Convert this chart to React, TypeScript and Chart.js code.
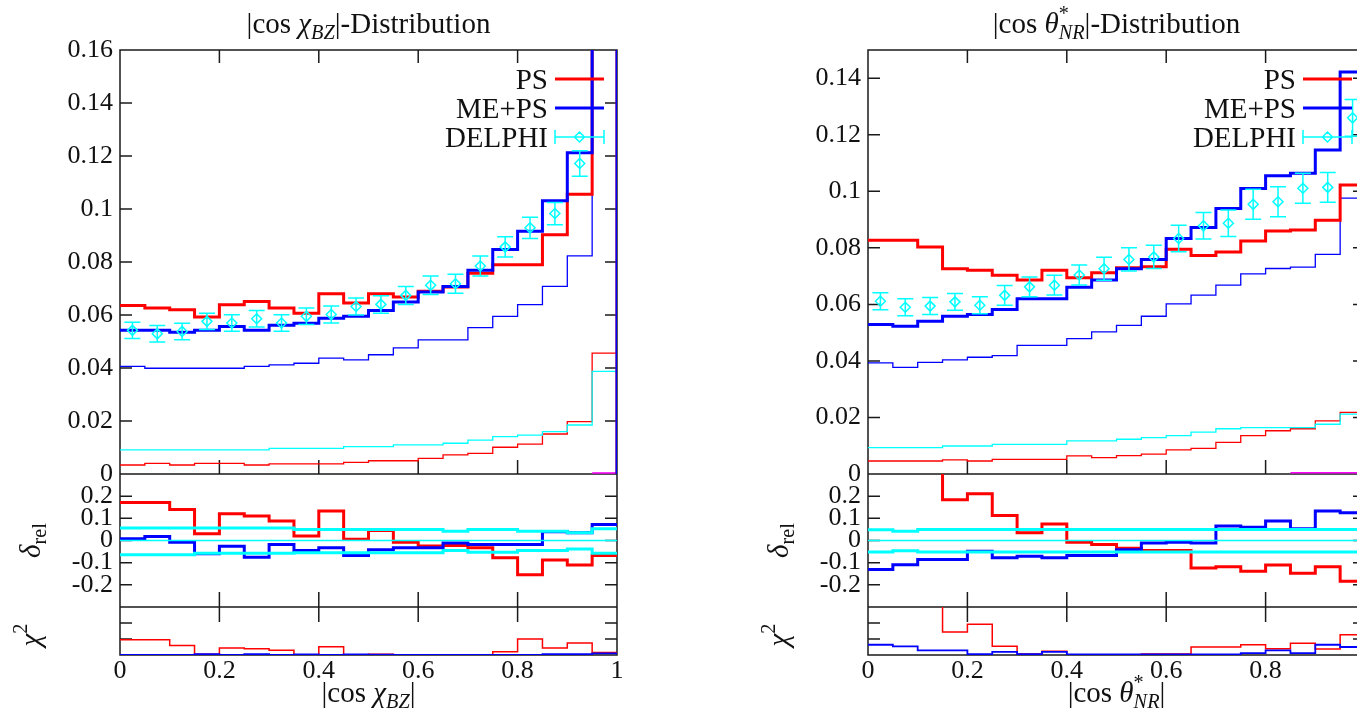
import React, { useEffect, useRef } from 'react';
import { Chart, registerables } from 'chart.js';

Chart.register(...registerables);

// ---------------- data ----------------
const BIN_EDGES = [0, 0.05, 0.1, 0.15, 0.2, 0.25, 0.3, 0.35, 0.4, 0.45, 0.5, 0.55, 0.6, 0.65, 0.7, 0.75, 0.8, 0.85, 0.9, 0.95, 1];
const BIN_CENTERS = [0.025, 0.075, 0.125, 0.175, 0.225, 0.275, 0.325, 0.375, 0.425, 0.475, 0.525, 0.575, 0.625, 0.675, 0.725, 0.775, 0.825, 0.875, 0.925, 0.975];
const ZERO_LINE = [0, 0, 0, 0, 0, 0, 0, 0, 0, 0, 0, 0, 0, 0, 0, 0, 0, 0, 0, 0];

// Left panel: |cos chi_BZ|
const L_PS = [0.0636, 0.0626, 0.0620, 0.0592, 0.0639, 0.0651, 0.0626, 0.0607, 0.0680, 0.0645, 0.0680, 0.0668, 0.0690, 0.0706, 0.0758, 0.0790, 0.0790, 0.0903, 0.1056, 0.2800];
const L_MEPS = [0.0542, 0.0542, 0.0535, 0.0542, 0.0557, 0.0542, 0.0561, 0.0569, 0.0588, 0.0595, 0.0617, 0.0649, 0.0687, 0.0708, 0.0769, 0.0847, 0.0916, 0.1031, 0.1212, 0.3200];
const L_DATA = [0.0542, 0.0529, 0.0538, 0.0576, 0.0570, 0.0586, 0.0570, 0.0595, 0.0602, 0.0632, 0.0640, 0.0674, 0.0712, 0.0718, 0.0785, 0.0857, 0.0929, 0.0983, 0.1172, 0.3000];
const L_ERR = [0.0031, 0.0031, 0.0031, 0.0031, 0.0031, 0.0031, 0.0031, 0.0031, 0.0032, 0.0032, 0.0033, 0.0034, 0.0035, 0.0036, 0.0038, 0.0038, 0.0040, 0.0042, 0.0048, 0.0150];
const L_THIN_BLUE = [0.0406, 0.0399, 0.0399, 0.0399, 0.0399, 0.0406, 0.0412, 0.0418, 0.0437, 0.0431, 0.0450, 0.0476, 0.0506, 0.0506, 0.0552, 0.0595, 0.0639, 0.0708, 0.0823, 0.2200];
const L_THIN_CYAN = [0.0091, 0.0091, 0.0091, 0.0091, 0.0091, 0.0091, 0.0097, 0.0097, 0.0097, 0.0103, 0.0103, 0.0110, 0.0110, 0.0116, 0.0128, 0.0141, 0.0147, 0.0160, 0.0185, 0.0387];
const L_THIN_RED = [0.0034, 0.0040, 0.0034, 0.0040, 0.0040, 0.0034, 0.0038, 0.0038, 0.0038, 0.0044, 0.0050, 0.0050, 0.0059, 0.0072, 0.0078, 0.0101, 0.0113, 0.0151, 0.0198, 0.0456];
const L_MAGENTA = [null, null, null, null, null, null, null, null, null, null, null, null, null, null, null, null, null, null, null, 0.0004];
const L_D_PS = [0.171, 0.171, 0.140, 0.030, 0.121, 0.110, 0.088, 0.020, 0.133, 0.006, 0.045, -0.008, -0.025, -0.023, -0.033, -0.078, -0.155, -0.088, -0.110, -0.068];
const L_D_MEPS = [0.008, 0.018, -0.008, -0.060, -0.026, -0.075, -0.018, -0.045, -0.033, -0.068, -0.042, -0.033, -0.033, -0.011, -0.018, -0.018, -0.018, 0.040, 0.035, 0.072];
const L_BAND_UP = [0.056, 0.056, 0.056, 0.056, 0.056, 0.056, 0.056, 0.050, 0.050, 0.050, 0.050, 0.050, 0.050, 0.042, 0.050, 0.050, 0.042, 0.042, 0.035, 0.053];
const L_BAND_LO = [-0.064, -0.064, -0.064, -0.058, -0.058, -0.058, -0.058, -0.055, -0.055, -0.055, -0.055, -0.055, -0.055, -0.045, -0.053, -0.053, -0.045, -0.045, -0.038, -0.057];
const L_C_PS = [0.95, 0.95, 0.60, 0.04, 0.43, 0.39, 0.29, 0.00, 0.52, 0.02, 0.05, 0.02, 0.00, 0.00, 0.00, 0.20, 1.00, 0.43, 0.75, 0.16];
const L_C_MEPS = [0.00, 0.01, 0.00, 0.05, 0.01, 0.05, 0.00, 0.03, 0.01, 0.04, 0.02, 0.01, 0.01, 0.00, 0.00, 0.00, 0.00, 0.06, 0.06, 0.10];

// Right panel: |cos theta*_NR|
const R_PS = [0.0827, 0.0827, 0.0803, 0.0726, 0.0721, 0.0703, 0.0686, 0.0721, 0.0694, 0.0712, 0.0730, 0.0733, 0.0795, 0.0773, 0.0785, 0.0824, 0.0860, 0.0863, 0.0898, 0.1022];
const R_MEPS = [0.0529, 0.0523, 0.0540, 0.0558, 0.0564, 0.0582, 0.0620, 0.0620, 0.0661, 0.0686, 0.0726, 0.0759, 0.0833, 0.0872, 0.0939, 0.1010, 0.1055, 0.1064, 0.1146, 0.1422];
const R_DATA = [0.0611, 0.0590, 0.0594, 0.0609, 0.0597, 0.0632, 0.0662, 0.0668, 0.0704, 0.0726, 0.0759, 0.0768, 0.0833, 0.0878, 0.0887, 0.0954, 0.0963, 0.1011, 0.1014, 0.1260];
const R_ERR = [0.0030, 0.0030, 0.0030, 0.0030, 0.0030, 0.0035, 0.0035, 0.0035, 0.0035, 0.0041, 0.0041, 0.0041, 0.0047, 0.0047, 0.0047, 0.0053, 0.0053, 0.0053, 0.0053, 0.0065];
const R_THIN_BLUE = [0.0393, 0.0377, 0.0395, 0.0404, 0.0413, 0.0419, 0.0455, 0.0455, 0.0479, 0.0503, 0.0526, 0.0558, 0.0602, 0.0633, 0.0668, 0.0708, 0.0727, 0.0732, 0.0777, 0.0976];
const R_THIN_CYAN = [0.0093, 0.0093, 0.0093, 0.0099, 0.0099, 0.0105, 0.0105, 0.0105, 0.0117, 0.0117, 0.0123, 0.0129, 0.0136, 0.0148, 0.0160, 0.0164, 0.0164, 0.0164, 0.0176, 0.0212];
const R_THIN_RED = [0.0046, 0.0046, 0.0046, 0.0050, 0.0046, 0.0052, 0.0052, 0.0052, 0.0064, 0.0058, 0.0065, 0.0070, 0.0085, 0.0091, 0.0112, 0.0136, 0.0153, 0.0160, 0.0188, 0.0218];
const R_MAGENTA = [null, null, null, null, null, null, null, null, null, null, null, null, null, null, null, null, null, 0.0004, 0.0004, 0.0004];
const R_D_PS = [0.35, 0.40, 0.35, 0.184, 0.211, 0.113, 0.035, 0.075, -0.008, -0.018, -0.035, -0.045, -0.045, -0.124, -0.118, -0.139, -0.110, -0.148, -0.118, -0.184];
const R_D_MEPS = [-0.131, -0.109, -0.086, -0.086, -0.048, -0.078, -0.071, -0.078, -0.068, -0.068, -0.042, -0.011, -0.008, -0.011, 0.065, 0.060, 0.088, 0.053, 0.133, 0.125];
const R_BAND_UP = [0.048, 0.042, 0.050, 0.050, 0.050, 0.050, 0.050, 0.050, 0.050, 0.050, 0.050, 0.050, 0.050, 0.050, 0.050, 0.050, 0.050, 0.050, 0.050, 0.050];
const R_BAND_LO = [-0.052, -0.046, -0.052, -0.052, -0.052, -0.052, -0.052, -0.052, -0.052, -0.052, -0.052, -0.052, -0.052, -0.052, -0.052, -0.052, -0.052, -0.052, -0.052, -0.052];
const R_C_PS = [5.2, 6.8, 5.2, 1.43, 1.92, 0.54, 0.06, 0.23, 0.00, 0.00, 0.00, 0.06, 0.06, 0.50, 0.50, 0.64, 0.39, 0.74, 0.37, 1.26];
const R_C_MEPS = [0.64, 0.54, 0.29, 0.29, 0.06, 0.19, 0.06, 0.19, 0.04, 0.04, 0.04, 0.04, 0.04, 0.04, 0.04, 0.12, 0.29, 0.12, 0.64, 0.50];

const LEGEND_LABELS = ['PS', 'ME+PS', 'DELPHI'];

// ---------------- styling / layout ----------------
const FONT_FAMILY = '"Liberation Serif", "Times New Roman", serif';
const TICK_FS = 26;
const TEXT_FS = 29;
const RED = '#ff0000';
const BLUE = '#0000ff';
const CYAN = '#00ffff';
const MAGENTA = '#ff00ff';
const INK = '#111111';

const TOP = 50;
const MAIN_H = 424;
const RATIO_H = 133;
const CHI_H = 48;
const XAX_H = 54;
const YAX_W = 120;
const CANVAS_W = 680;
const CANVAS_H = 709;
const RIGHT_PAD = 63;

type Run = { t: string; it?: boolean; sub?: string; subIt?: boolean; sup?: string };

const fnt = (size: number, it?: boolean) => `${it ? 'italic ' : ''}${size}px ${FONT_FAMILY}`;

function runsWidth(ctx: CanvasRenderingContext2D, runs: Run[], size: number) {
  let w = 0;
  for (const r of runs) {
    ctx.font = fnt(size, r.it);
    w += ctx.measureText(r.t).width;
    let sw = 0;
    if (r.sub) {
      ctx.font = fnt(size * 0.7, r.subIt !== false);
      sw = Math.max(sw, ctx.measureText(r.sub).width);
    }
    if (r.sup) {
      ctx.font = fnt(size * 0.7, false);
      sw = Math.max(sw, ctx.measureText(r.sup).width);
    }
    w += sw;
  }
  return w;
}

function drawRuns(ctx: CanvasRenderingContext2D, runs: Run[], cx: number, cy: number, size: number, rot = 0) {
  ctx.save();
  ctx.translate(cx, cy);
  if (rot) ctx.rotate(rot);
  ctx.fillStyle = INK;
  ctx.textAlign = 'left';
  ctx.textBaseline = 'alphabetic';
  const w = runsWidth(ctx, runs, size);
  let x = -w / 2;
  const base = size * 0.33;
  for (const r of runs) {
    ctx.font = fnt(size, r.it);
    ctx.fillText(r.t, x, base);
    x += ctx.measureText(r.t).width;
    let sw = 0;
    if (r.sub) {
      ctx.font = fnt(size * 0.7, r.subIt !== false);
      ctx.fillText(r.sub, x, base + size * 0.22);
      sw = Math.max(sw, ctx.measureText(r.sub).width);
    }
    if (r.sup) {
      ctx.font = fnt(size * 0.7, false);
      ctx.fillText(r.sup, x, base - size * 0.42);
      sw = Math.max(sw, ctx.measureText(r.sup).width);
    }
    x += sw;
  }
  ctx.restore();
}

type PanelCfg = {
  title: Run[];
  xlabel: Run[];
  yMax: number;
  ps: number[];
  meps: number[];
  data: number[];
  err: number[];
  thinBlue: number[];
  thinCyan: number[];
  thinRed: number[];
  magenta: (number | null)[];
  dPs: number[];
  dMeps: number[];
  bandUp: number[];
  bandLo: number[];
  cPs: number[];
  cMeps: number[];
};

const LEFT: PanelCfg = {
  title: [{ t: '|cos ' }, { t: 'χ', it: true, sub: 'BZ' }, { t: '|-Distribution' }],
  xlabel: [{ t: '|cos ' }, { t: 'χ', it: true, sub: 'BZ' }, { t: '|' }],
  yMax: 0.16,
  ps: L_PS, meps: L_MEPS, data: L_DATA, err: L_ERR,
  thinBlue: L_THIN_BLUE, thinCyan: L_THIN_CYAN, thinRed: L_THIN_RED, magenta: L_MAGENTA,
  dPs: L_D_PS, dMeps: L_D_MEPS, bandUp: L_BAND_UP, bandLo: L_BAND_LO,
  cPs: L_C_PS, cMeps: L_C_MEPS,
};

const RIGHT: PanelCfg = {
  title: [{ t: '|cos ' }, { t: 'θ', it: true, sup: '*', sub: 'NR' }, { t: '|-Distribution' }],
  xlabel: [{ t: '|cos ' }, { t: 'θ', it: true, sup: '*', sub: 'NR' }, { t: '|' }],
  yMax: 0.15,
  ps: R_PS, meps: R_MEPS, data: R_DATA, err: R_ERR,
  thinBlue: R_THIN_BLUE, thinCyan: R_THIN_CYAN, thinRed: R_THIN_RED, magenta: R_MAGENTA,
  dPs: R_D_PS, dMeps: R_D_MEPS, bandUp: R_BAND_UP, bandLo: R_BAND_LO,
  cPs: R_C_PS, cMeps: R_C_MEPS,
};

function hist(vals: (number | null)[], drop = false) {
  const pts: { x: number; y: number | null }[] = vals.map((v, i) => ({ x: BIN_EDGES[i], y: v }));
  pts.push({ x: BIN_EDGES[vals.length], y: vals[vals.length - 1] });
  if (drop) pts.push({ x: BIN_EDGES[vals.length], y: 0 });
  return pts;
}

function stepDs(label: string, vals: (number | null)[], color: string, width: number, axis: string, drop = false) {
  return {
    type: 'line' as const,
    label,
    data: hist(vals, drop),
    borderColor: color,
    backgroundColor: color,
    borderWidth: width,
    stepped: 'before' as const,
    pointRadius: 0,
    pointHoverRadius: 0,
    fill: false,
    spanGaps: false,
    yAxisID: axis,
    clip: 0,
    borderJoinStyle: 'miter' as const,
    borderCapStyle: 'butt' as const,
  };
}

const fmt = (v: any) => String(Number(Number(v).toFixed(3)));

const TICK = 12;

const framePlugin = {
  id: 'gnuFrame',
  beforeDatasetsDraw(chart: any) {
    const { ctx, chartArea: ca } = chart;
    const sx = chart.scales.x;
    const ym = chart.scales.y;
    const yr = chart.scales.yr;
    const yc = chart.scales.yc;
    ctx.save();
    ctx.strokeStyle = '#1a1a1a';
    ctx.lineWidth = 1.5;
    ctx.beginPath();
    ctx.rect(ca.left, ca.top, ca.right - ca.left, ca.bottom - ca.top);
    ctx.moveTo(ca.left, ym.bottom);
    ctx.lineTo(ca.right, ym.bottom);
    ctx.moveTo(ca.left, yr.bottom);
    ctx.lineTo(ca.right, yr.bottom);
    for (const s of [ym, yr, yc]) {
      for (const t of s.ticks) {
        const py = s.getPixelForValue(t.value);
        if (py <= s.top + 0.5 || py >= s.bottom - 0.5) continue;
        ctx.moveTo(ca.left, py);
        ctx.lineTo(ca.left + TICK, py);
        ctx.moveTo(ca.right, py);
        ctx.lineTo(ca.right - TICK, py);
      }
    }
    for (const t of sx.ticks) {
      const px = sx.getPixelForValue(t.value);
      if (px <= ca.left + 0.5 || px >= ca.right - 0.5) continue;
      ctx.moveTo(px, ym.top);
      ctx.lineTo(px, ym.top + 13);
      ctx.moveTo(px, ym.bottom);
      ctx.lineTo(px, ym.bottom - 14);
      ctx.moveTo(px, yr.bottom);
      ctx.lineTo(px, yr.bottom - 15);
      ctx.moveTo(px, yc.top);
      ctx.lineTo(px, yc.top + 15);
    }
    ctx.stroke();
    ctx.restore();
  },
};

function diamond(ctx: CanvasRenderingContext2D, x: number, y: number, r: number) {
  ctx.moveTo(x, y - r);
  ctx.lineTo(x + r, y);
  ctx.lineTo(x, y + r);
  ctx.lineTo(x - r, y);
  ctx.closePath();
}

function makeOverlay(p: PanelCfg) {
  return {
    id: 'overlay',
    afterDatasetsDraw(chart: any) {
      const { ctx, chartArea: ca } = chart;
      const sx = chart.scales.x;
      const ym = chart.scales.y;
      // error bars
      ctx.save();
      ctx.beginPath();
      ctx.rect(ca.left, ym.top, ca.right - ca.left, ym.bottom - ym.top);
      ctx.clip();
      ctx.strokeStyle = CYAN;
      ctx.lineWidth = 1.5;
      ctx.beginPath();
      p.data.forEach((v, i) => {
        const e = p.err[i];
        const px = sx.getPixelForValue(BIN_CENTERS[i]);
        const y1 = ym.getPixelForValue(v - e);
        const y2 = ym.getPixelForValue(v + e);
        ctx.moveTo(px, y1);
        ctx.lineTo(px, y2);
        ctx.moveTo(px - 8, y1);
        ctx.lineTo(px + 8, y1);
        ctx.moveTo(px - 8, y2);
        ctx.lineTo(px + 8, y2);
      });
      ctx.stroke();
      ctx.restore();

      // legend
      ctx.save();
      const colors = [RED, BLUE, CYAN];
      LEGEND_LABELS.forEach((lab, i) => {
        const y = ca.top + 29 + i * 29;
        ctx.font = fnt(TEXT_FS);
        ctx.fillStyle = INK;
        ctx.textAlign = 'right';
        ctx.textBaseline = 'alphabetic';
        ctx.fillText(lab, ca.right - 69, y + TEXT_FS * 0.33);
        const x1 = ca.right - 62;
        const x2 = ca.right - 13;
        ctx.strokeStyle = colors[i];
        ctx.beginPath();
        if (i < 2) {
          ctx.lineWidth = 3;
          ctx.moveTo(x1, y);
          ctx.lineTo(x2, y);
        } else {
          ctx.lineWidth = 1.5;
          ctx.moveTo(x1, y);
          ctx.lineTo(x2, y);
          ctx.moveTo(x1, y - 7);
          ctx.lineTo(x1, y + 7);
          ctx.moveTo(x2, y - 7);
          ctx.lineTo(x2, y + 7);
          diamond(ctx, (x1 + x2) / 2, y, 5);
        }
        ctx.stroke();
      });
      ctx.restore();
    },
    afterDraw(chart: any) {
      const { ctx, chartArea: ca } = chart;
      const yr = chart.scales.yr;
      const yc = chart.scales.yc;
      const cx = (ca.left + ca.right) / 2;
      drawRuns(ctx, p.title, cx, 23, TEXT_FS);
      drawRuns(ctx, p.xlabel, cx, 692, TEXT_FS);
      drawRuns(ctx, [{ t: 'δ', it: true, sub: 'rel', subIt: false }], ca.left - 90, (yr.top + yr.bottom) / 2, TEXT_FS, -Math.PI / 2);
      drawRuns(ctx, [{ t: 'χ', it: true, sup: '2' }], ca.left - 90, (yc.top + yc.bottom) / 2 + 4, TEXT_FS, -Math.PI / 2);
    },
  };
}

function buildConfig(p: PanelCfg): any {
  const tickFont = { family: FONT_FAMILY, size: TICK_FS };
  const yCommon = {
    type: 'linear',
    position: 'left',
    stack: 'panel',
    grid: { display: false, drawTicks: false },
    border: { display: false },
    afterFit: (s: any) => { s.width = YAX_W; },
  };
  const datasets: any[] = [
    {
      type: 'line',
      label: 'DELPHI',
      data: BIN_CENTERS.map((x, i) => ({ x, y: p.data[i] })),
      showLine: false,
      pointStyle: 'rectRot',
      pointRadius: 5,
      pointHoverRadius: 5,
      pointBorderColor: CYAN,
      pointBackgroundColor: 'rgba(0,0,0,0)',
      pointBorderWidth: 1.5,
      yAxisID: 'y',
      clip: 0,
    },
    stepDs('band up', p.bandUp, CYAN, 3, 'yr'),
    stepDs('band lo', p.bandLo, CYAN, 3, 'yr'),
    stepDs('band mid', ZERO_LINE, CYAN, 1.5, 'yr'),
    stepDs('ME+PS rel', p.dMeps, BLUE, 3, 'yr'),
    stepDs('PS rel', p.dPs, RED, 3, 'yr'),
    stepDs('ME+PS chi2', p.cMeps, BLUE, 1.8, 'yc'),
    stepDs('PS chi2', p.cPs, RED, 1.5, 'yc'),
    stepDs('ME+PS', p.meps, BLUE, 3, 'y', true),
    stepDs('PS', p.ps, RED, 3, 'y', true),
    stepDs('other', p.magenta, MAGENTA, 1.5, 'y'),
    stepDs('thin blue', p.thinBlue, BLUE, 1.3, 'y', true),
    stepDs('thin cyan', p.thinCyan, CYAN, 1.3, 'y', true),
    stepDs('thin red', p.thinRed, RED, 1.3, 'y', true),
  ];
  return {
    type: 'line',
    data: { datasets },
    options: {
      responsive: false,
      animation: false,
      events: [],
      layout: { padding: { top: TOP, right: RIGHT_PAD, bottom: 0, left: 0 } },
      plugins: {
        legend: { display: false },
        tooltip: { enabled: false },
        title: { display: false },
      },
      scales: {
        x: {
          type: 'linear',
          position: 'bottom',
          min: 0,
          max: 1,
          ticks: { stepSize: 0.2, font: tickFont, color: INK, maxRotation: 0, autoSkip: false, padding: 1, callback: fmt },
          grid: { display: false, drawTicks: false },
          border: { display: false },
          afterFit: (s: any) => { s.height = XAX_H; },
        },
        y: {
          ...yCommon,
          weight: 3,
          stackWeight: MAIN_H,
          min: 0,
          max: p.yMax,
          ticks: { stepSize: 0.02, includeBounds: false, font: tickFont, color: INK, autoSkip: false, padding: 7, callback: fmt },
          afterBuildTicks: (s: any) => {
            s.ticks = s.ticks.filter((t: any) => Math.abs(t.value / 0.02 - Math.round(t.value / 0.02)) < 1e-6 && t.value <= p.yMax + 1e-9);
          },
        },
        yr: {
          ...yCommon,
          weight: 2,
          stackWeight: RATIO_H,
          min: -0.3,
          max: 0.3,
          ticks: { stepSize: 0.1, font: tickFont, color: INK, autoSkip: false, padding: 7, callback: fmt },
          afterBuildTicks: (s: any) => {
            s.ticks = s.ticks.filter((t: any) => Math.abs(t.value) < 0.25);
          },
        },
        yc: {
          ...yCommon,
          weight: 1,
          stackWeight: CHI_H,
          min: 0,
          max: 3,
          ticks: { stepSize: 1, font: tickFont, color: INK, autoSkip: false, padding: 7, callback: () => '' },
          afterBuildTicks: (s: any) => {
            s.ticks = s.ticks.filter((t: any) => t.value > 0.5 && t.value < 2.5);
          },
        },
      },
    },
    plugins: [framePlugin, makeOverlay(p)],
  };
}

function PanelChart({ cfg, left }: { cfg: PanelCfg; left: number }) {
  const ref = useRef<HTMLCanvasElement>(null);
  useEffect(() => {
    if (!ref.current) return;
    const chart = new Chart(ref.current, buildConfig(cfg));
    return () => chart.destroy();
  }, [cfg]);
  return (
    <canvas
      ref={ref}
      width={CANVAS_W}
      height={CANVAS_H}
      style={{ position: 'absolute', left, top: 0, width: CANVAS_W, height: CANVAS_H }}
    />
  );
}

export default function App() {
  return (
    <div
      style={{
        position: 'fixed',
        left: 0,
        top: 0,
        width: 1357,
        height: 709,
        overflow: 'hidden',
        background: '#ffffff',
      }}
    >
      <PanelChart cfg={LEFT} left={0} />
      <PanelChart cfg={RIGHT} left={748} />
    </div>
  );
}
